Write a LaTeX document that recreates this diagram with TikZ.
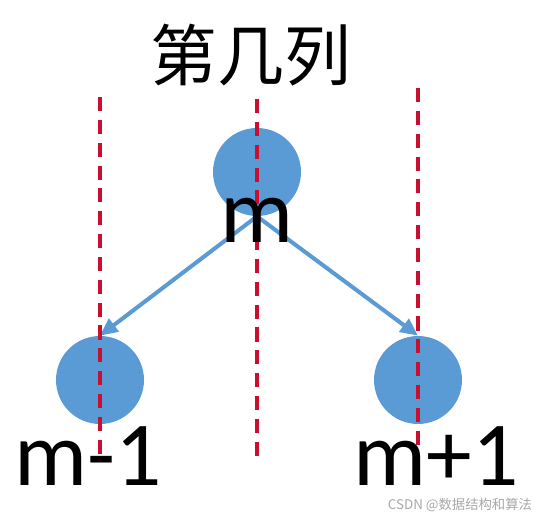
\documentclass[tikz,border=0pt]{standalone}
\usepackage{fontspec}
\setmainfont{Carlito}
\newfontfamily\cjk{Noto Sans CJK SC}
\usetikzlibrary{arrows.meta}
\definecolor{LieBlue}{HTML}{5B9BD5}
\definecolor{LieRed}{HTML}{C8102E}
\definecolor{LieGrey}{HTML}{A8A8A8}

\tikzset{
  ball/.style={circle,fill=LieBlue,minimum size=1.76cm,inner sep=0pt},
  colline/.style={LieRed,line width=2.1pt,dash pattern=on 8pt off 5pt},
  jump/.style={LieBlue,line width=2.3pt,-{Triangle[length=10pt,width=9pt]}},
  big/.style={font=\fontsize{52pt}{56pt}\selectfont,inner sep=0pt,text depth=0pt,anchor=base}
}

\begin{document}
\begin{tikzpicture}
  \useasboundingbox (0,0) rectangle (10.88,10.34);
  \node[ball] (top) at (5.14,6.90) {};
  \node[ball] (left) at (2.00,2.74) {};
  \node[ball] (right) at (8.36,2.74) {};
  \draw[jump] (top.south) -- (left.north);
  \draw[jump] (top.south) -- (right.north);
  % column lines
  \coordinate (la) at (2.00,8.40); \coordinate (lb) at (2.00,1.22);
  \coordinate (ma) at (5.14,8.36); \coordinate (mb) at (5.14,1.16);
  \coordinate (ra) at (8.36,8.58); \coordinate (rb) at (8.36,1.44);
  \draw[colline] (la) -- (lb);
  \draw[colline] (ma) -- (mb);
  \draw[colline] (ra) -- (rb);
  \node[font=\cjk\fontsize{38pt}{42pt}\selectfont] (title) at (5.02,9.24) {第几列};
  \node[big] (mtop) at (5.14,5.48) {m};
  \node[big] (mleft) at (1.77,0.62) {m-1};
  \node[big] (mright) at (8.72,0.62) {m+1};
  \node[font=\cjk\fontsize{7.6pt}{9pt}\selectfont,text=LieGrey] (mark) at (9.20,0.24) {CSDN @数据结构和算法};
\end{tikzpicture}
\end{document}
